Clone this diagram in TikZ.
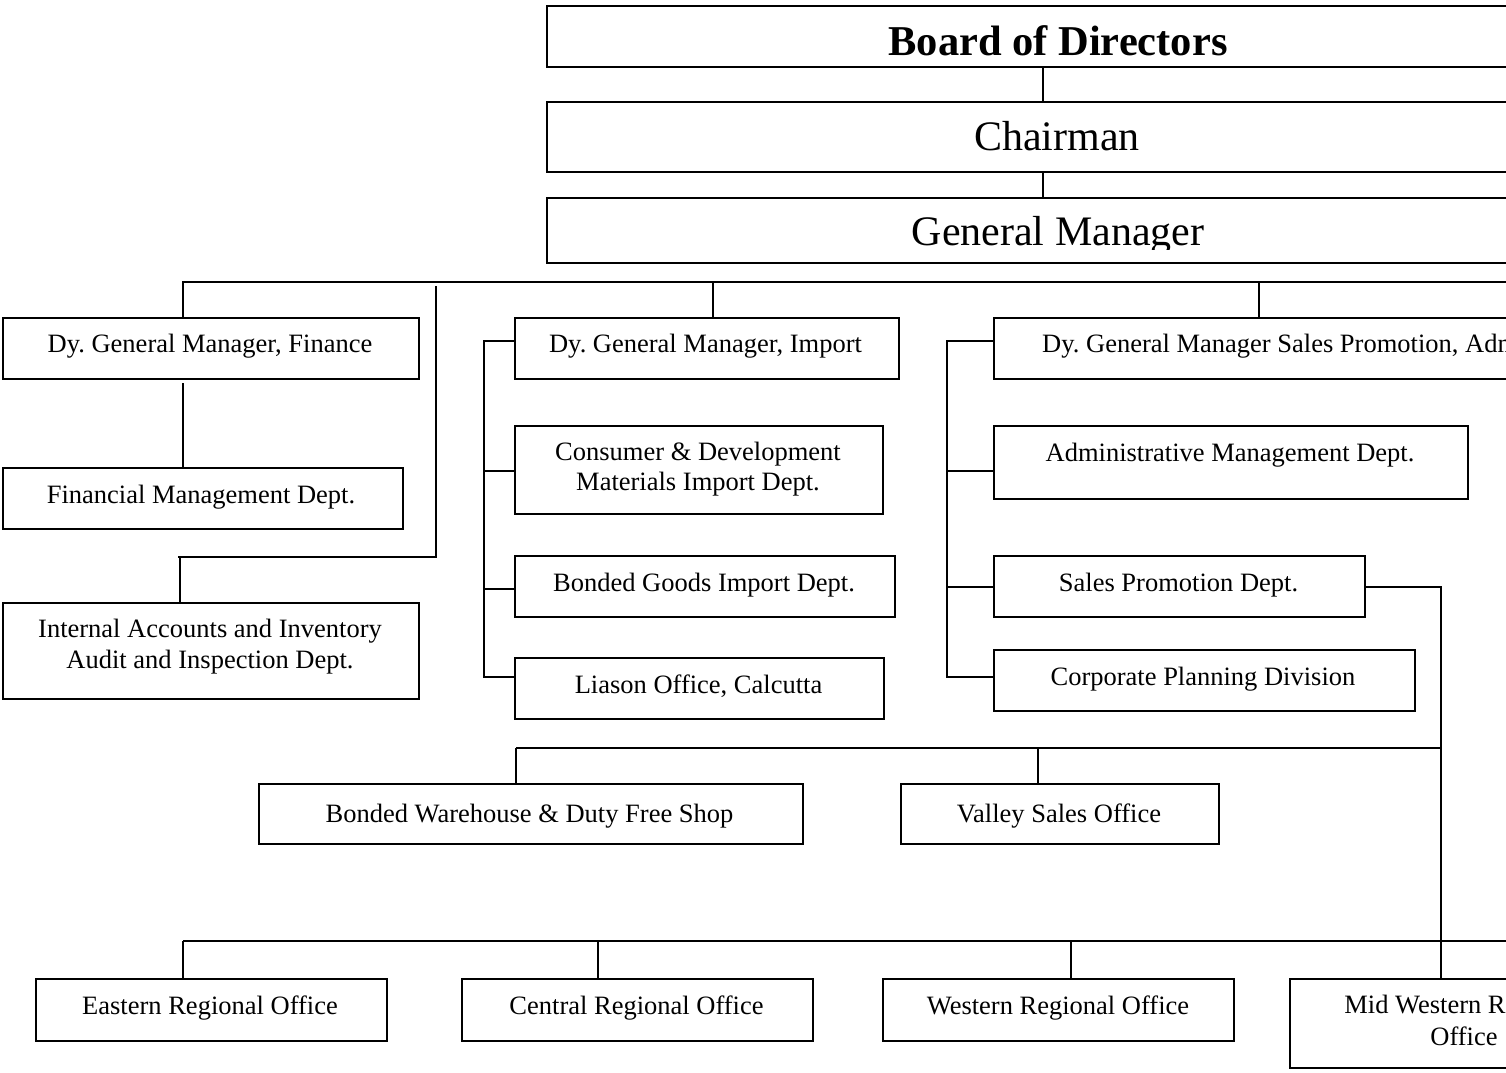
\documentclass[tikz,border=0pt]{standalone}
\usepackage{fontspec}
\setmainfont{Liberation Serif}
\frenchspacing
\begin{document}
\begin{tikzpicture}[x=1pt,y=-1pt,
  box/.style={draw, line width=1.8pt, rectangle, inner sep=0pt, anchor=north west},
  wire/.style={line width=1.4pt},
  lbl/.style={font=\fontsize{26.5}{31}\selectfont, anchor=base, inner sep=0pt},
  big/.style={font=\fontsize{42}{50}\selectfont, anchor=base, inner sep=0pt},
]
\useasboundingbox (0,0) rectangle (1506,1072);
\clip (0,0) rectangle (1506,1072);

% ---- top of the hierarchy
\node[box, minimum width=1024pt, minimum height=61pt] (board) at (546,5) {};
\node[box, minimum width=1024pt, minimum height=70pt] (chair) at (546,101) {};
\node[box, minimum width=1024pt, minimum height=65pt] (gm) at (546,197) {};
\node[big, font=\fontsize{42.5}{50}\selectfont\bfseries] (board-t) at (1058,55) {Board of Directors};
\node[big] (chair-t) at (1057,150) {Chairman};
\begin{scope}
  \clip (546,197) rectangle (1570,249.5);
  \node[big] (gm-t) at (1058,245) {General Manager};
\end{scope}

% ---- finance branch
\node[box, minimum width=416pt, minimum height=61pt] (fin) at (2,317) {};
\node[box, minimum width=400pt, minimum height=61pt] (finmg) at (2,467) {};
\node[box, minimum width=416pt, minimum height=96pt] (audit) at (2,602) {};
\node[lbl] (fin-t) at (210,352) {Dy. General Manager, Finance};
\node[lbl] (finmg-t) at (201,503) {Financial Management Dept.};
\node[lbl] (audit-t1) at (210,637) {Internal Accounts and Inventory};
\node[lbl] (audit-t2) at (210,668) {Audit and Inspection Dept.};

% ---- import branch
\node[box, minimum width=384pt, minimum height=61pt] (imp) at (514,317) {};
\node[box, minimum width=368pt, minimum height=88pt] (cons) at (514,425) {};
\node[box, minimum width=380pt, minimum height=61pt] (bgi) at (514,555) {};
\node[box, minimum width=369pt, minimum height=61pt] (lia) at (514,657) {};
\node[lbl] (imp-t) at (705.5,352) {Dy. General Manager, Import};
\node[lbl] (cons-t1) at (698,460) {Consumer \& Development};
\node[lbl] (cons-t2) at (698,490) {Materials Import Dept.};
\node[lbl] (bgi-t) at (704,591) {Bonded Goods Import Dept.};
\node[lbl] (lia-t) at (698.5,693) {Liason Office, Calcutta};

% ---- sales promotion / administration branch
\node[box, minimum width=700pt, minimum height=61pt] (sadm) at (993,317) {};
\node[box, minimum width=474pt, minimum height=73pt] (adm) at (993,425) {};
\node[box, minimum width=371pt, minimum height=61pt] (spd) at (993,555) {};
\node[box, minimum width=421pt, minimum height=61pt] (cpd) at (993,649) {};
\node[lbl, anchor=base west] (sadm-t) at (1042,352) {Dy. General Manager Sales Promotion, Administration};
\node[lbl] (adm-t) at (1230,461) {Administrative Management Dept.};
\node[lbl] (spd-t) at (1178.5,591) {Sales Promotion Dept.};
\node[lbl] (cpd-t) at (1203,685) {Corporate Planning Division};

% ---- sales offices
\node[box, minimum width=544pt, minimum height=60pt] (bwh) at (258,783) {};
\node[box, minimum width=318pt, minimum height=60pt] (vso) at (900,783) {};
\node[lbl] (bwh-t) at (529.5,822) {Bonded Warehouse \& Duty Free Shop};
\node[lbl] (vso-t) at (1059,822) {Valley Sales Office};

% ---- regional offices
\node[box, minimum width=351pt, minimum height=62pt] (ero) at (35,978) {};
\node[box, minimum width=351pt, minimum height=62pt] (cro) at (461,978) {};
\node[box, minimum width=351pt, minimum height=62pt] (wro) at (882,978) {};
\node[box, minimum width=350pt, minimum height=89pt] (mwro) at (1289,978) {};
\node[lbl] (ero-t) at (210,1014) {Eastern Regional Office};
\node[lbl] (cro-t) at (636.5,1014) {Central Regional Office};
\node[lbl] (wro-t) at (1058,1014) {Western Regional Office};
\node[lbl] (mwro-t1) at (1464,1013) {Mid Western Regional};
\node[lbl] (mwro-t2) at (1464,1045) {Office};

% ---- connectors
\coordinate (sp) at (1043,0);
\draw[wire] (board.south -| sp) -- (chair.north -| sp);
\draw[wire] (chair.south -| sp) -- (gm.north -| sp);

\coordinate (busL) at (183,282);
\coordinate (busR) at (1520,282);
\draw[wire] (fin.north -| busL) -- (busL) -- (busR);
\draw[wire] (713,282) -- (imp.north -| 713,282);
\draw[wire] (1259,282) -- (sadm.north -| 1259,282);

\draw[wire] (183,383) -- (finmg.north -| 183,0);
\draw[wire] (436,286) -- (436,557) -- (178,557);
\draw[wire] (180,557) -- (audit.north -| 180,0);

\draw[wire] (imp.west |- 0,341) -| (484,677) -- (lia.west |- 0,677);
\draw[wire] (484,471) -- (cons.west |- 0,471);
\draw[wire] (484,589) -- (bgi.west |- 0,589);

\draw[wire] (sadm.west |- 0,341) -| (947,677) -- (cpd.west |- 0,677);
\draw[wire] (947,471) -- (adm.west |- 0,471);
\draw[wire] (947,587) -- (spd.west |- 0,587);

\coordinate (trunk) at (1441,0);
\draw[wire] (spd.east |- 0,587) -| (mwro.north -| trunk);

\draw[wire] (516,748) -- (1441,748);
\draw[wire] (516,748) -- (bwh.north -| 516,0);
\draw[wire] (1038,748) -- (vso.north -| 1038,0);

\coordinate (busB) at (1520,941);
\draw[wire] (183,941) -- (busB);
\draw[wire] (183,941) -- (ero.north -| 183,0);
\draw[wire] (598,941) -- (cro.north -| 598,0);
\draw[wire] (1071,941) -- (wro.north -| 1071,0);
\end{tikzpicture}
\end{document}
